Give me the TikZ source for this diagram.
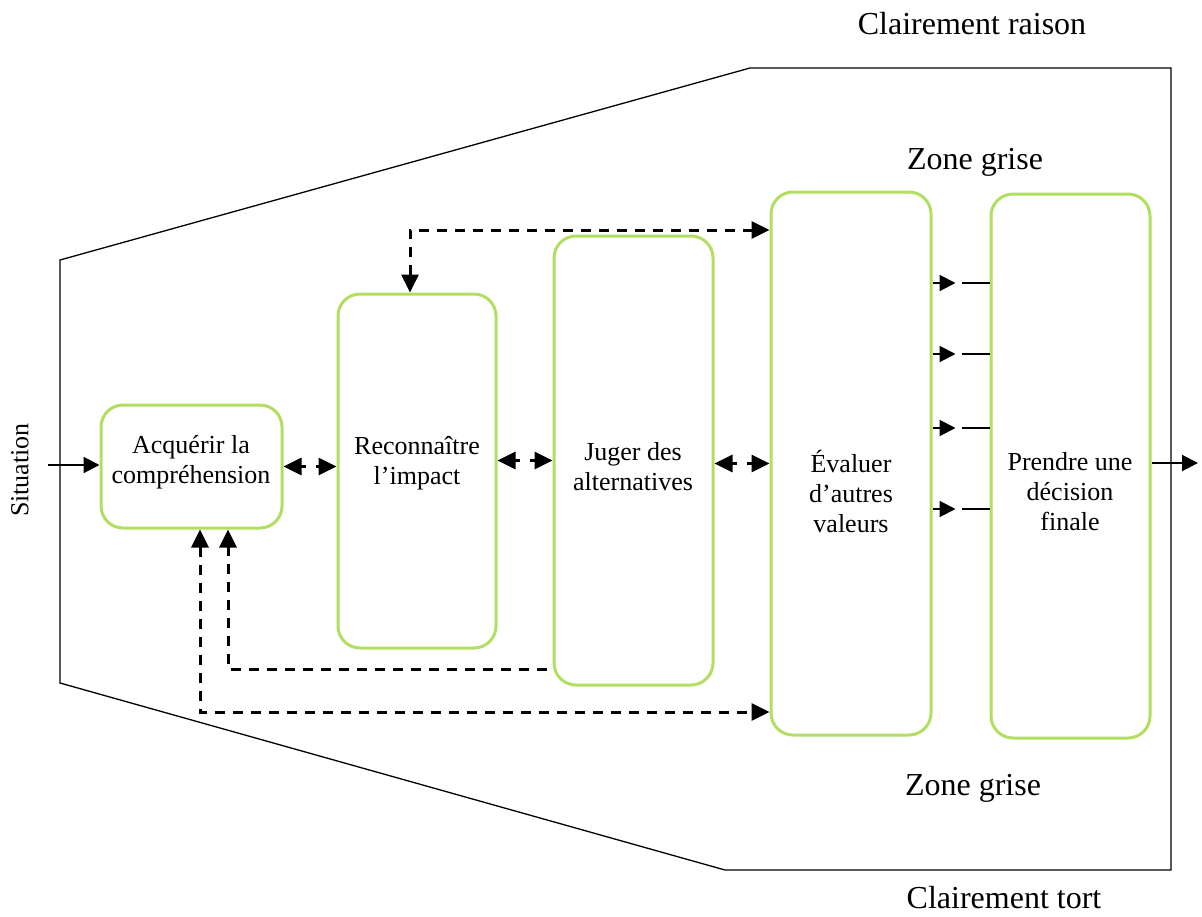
\documentclass[tikz,border=0pt]{standalone}
\usepackage{fontspec}
\setmainfont{Liberation Serif}
\usetikzlibrary{arrows.meta,calc}
\definecolor{boxgreen}{RGB}{178,222,98}
\tikzset{
  tip/.tip={Triangle[length=18pt,width=17pt]},
  stage/.style={draw=boxgreen, line width=3pt, rounded corners=22pt, inner sep=0pt, fill=white},
  btext/.style={align=center, font=\fontsize{26}{30}\selectfont, inner sep=0pt},
  lbl/.style={font=\fontsize{32}{36}\selectfont, inner sep=0pt},
  dasharrow/.style={line width=3pt, dash pattern=on 10pt off 8pt, -tip},
  dasharrows/.style={line width=3pt, dash pattern=on 10pt off 8pt, tip-tip},
  shortarrows/.style={line width=3pt, dash pattern=on 5pt off 10pt, tip-tip},
  solidarrow/.style={line width=2pt, -{Triangle[length=16pt,width=16pt]}},
  frame/.style={line width=1.3pt}
}
\begin{document}
\begin{tikzpicture}[x=1pt,y=-1pt]
\useasboundingbox (0,0) rectangle (1202,916);
% frame
\draw[frame] (60,260) -- (750,68) -- (1171,68) -- (1171,870) -- (725,870) -- (60,683) -- cycle;
% labels
\node[lbl] (cr) at (972,24) {Clairement raison};
\node[lbl] (zg1) at (975,162) {Zone grise};
\node[lbl] (zg2) at (973,788) {Zone grise};
\node[lbl] (ct) at (1004,898) {Clairement tort};
% boxes
\node[stage, minimum width=181pt, minimum height=123pt] (A) at (191.5,466.5) {};
\node[stage, minimum width=158pt, minimum height=354pt] (B) at (417,471) {};
\node[stage, minimum width=159pt, minimum height=449pt] (C) at (633.5,460.5) {};
\node[stage, minimum width=160pt, minimum height=543pt] (D) at (851,463.5) {};
\node[stage, minimum width=159pt, minimum height=544pt] (E) at (1070.5,466) {};
% box texts
\node[btext] (tA) at (191,462) {Acquérir la\\compréhension};
\node[btext] (tB) at (417,463) {Reconnaître\\l’impact};
\node[btext] (tC) at (633,467) {Juger des\\alternatives};
\node[btext] (tD) at (851,491) {Évaluer\\d’autres\\valeurs};
\node[btext] (tE) at (1070,492) {Prendre une\\décision\\finale};
% situation
\node[btext, rotate=90] (sit) at (20,470) {Situation};
\coordinate (in) at (48,465);
\draw[solidarrow] (in) -- (A.west |- in);
\coordinate (out) at (1198,463);
\draw[solidarrow] (E.east |- out) -- (out);
% short bidirectional dashed arrows
\draw[shortarrows] (A.east) -- (B.west |- A.east);
\draw[shortarrows] (B.east |- C.west) -- (C.west);
\draw[shortarrows] (C.east |- D.west) -- (D.west);
% top feedback
\coordinate (tl) at (410,230);
\draw[dasharrows] ([xshift=-7pt]B.north) -- (tl) -- (tl -| D.west);
% bottom feedback 1
\coordinate (b1) at (228,669);
\draw[dasharrow] ([xshift=-6pt]b1 -| C.west) -- (b1) -- (b1 |- A.south);
% bottom feedback 2
\coordinate (b2) at (200,712);
\draw[dasharrows] (b2 |- A.south) -- (b2) -- (b2 -| D.west);
% right side arrows to final decision
\foreach \yy in {283,354,428,509}{
  \draw[solidarrow] (D.east |- 0,\yy) -- ++(23,0);
  \draw[line width=1.3pt] ([xshift=-28pt]E.west |- 0,\yy) -- (E.west |- 0,\yy);
}
\end{tikzpicture}
\end{document}
